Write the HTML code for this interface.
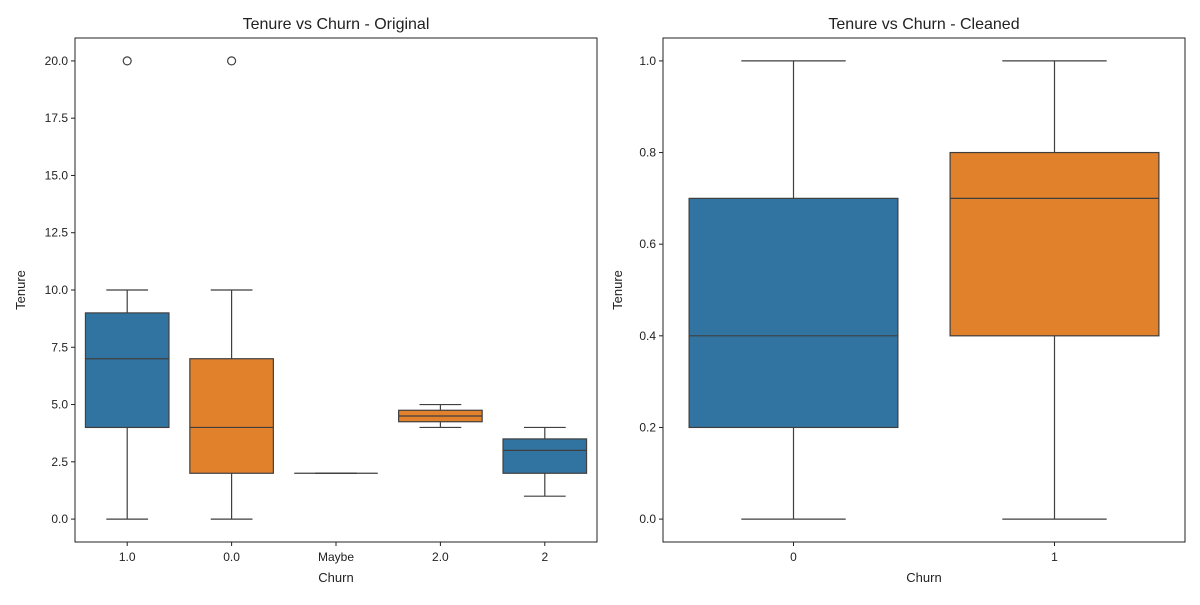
<!DOCTYPE html>
<html><head><meta charset="utf-8"><style>
body{margin:0;background:#fff;}
svg text{font-family:"Liberation Sans",sans-serif;fill:#222;}
</style></head><body>
<svg id="c" width="1200" height="600" xmlns="http://www.w3.org/2000/svg"></svg>
<script>
const leftCats=["1.0","0.0","Maybe","2.0","2"];
const leftLo=[0,0,2,4,1];
const leftQ1=[4,2,2,4.25,2];
const leftMed=[7,4,2,4.5,3];
const leftQ3=[9,7,2,4.75,3.5];
const leftHi=[10,10,2,5,4];
const leftOut=[[20],[20],[],[],[]];
const leftColors=["#3274a1","#e1812c","#3274a1","#e1812c","#3274a1"];
const leftTicks=[0,2.5,5,7.5,10,12.5,15,17.5,20];
const leftTickLabels=["0.0","2.5","5.0","7.5","10.0","12.5","15.0","17.5","20.0"];

const rightCats=["0","1"];
const rightLo=[0,0];
const rightQ1=[0.2,0.4];
const rightMed=[0.4,0.7];
const rightQ3=[0.7,0.8];
const rightHi=[1,1];
const rightOut=[[],[]];
const rightColors=["#3274a1","#e1812c"];
const rightTicks=[0,0.2,0.4,0.6,0.8,1.0];
const rightTickLabels=["0.0","0.2","0.4","0.6","0.8","1.0"];

const svg=document.getElementById('c');
const NS="http://www.w3.org/2000/svg";
function mk(tag,attrs,parent,text){const e=document.createElementNS(NS,tag);for(const k in attrs)e.setAttribute(k,attrs[k]);if(text!==undefined)e.textContent=text;(parent||svg).appendChild(e);return e;}

function panel(p){
  const g=mk('g',{});
  
  
  const x0=p.x0,x1=p.x1,yT=38,yB=542;
  const ymin=p.ymin,ymax=p.ymax;
  const y=v=>yB-(v-ymin)/(ymax-ymin)*(yB-yT);
  const n=p.cats.length, step=(x1-x0)/n;
  const cx=i=>x0+step*(i+0.5);
  const bw=step*0.8;
  // ticks
  p.ticks.forEach((t,i)=>{
    const l=mk('line',{x1:x0-4,x2:x0,y1:y(t),y2:y(t),stroke:'#222','stroke-width':1},g);
    
    
    const tx=mk('text',{x:x0-7,y:y(t)+4,'text-anchor':'end','font-size':12},g,p.tickLabels[i]);
    
    
  });
  p.cats.forEach((c,i)=>{
    const l=mk('line',{x1:cx(i),x2:cx(i),y1:yB,y2:yB+4,stroke:'#222'},g);
    
    
    const tx=mk('text',{x:cx(i),y:yB+19,'text-anchor':'middle','font-size':12},g,c);
    
    
    const lc='#3f3f3f';
    const w1=mk('line',{x1:cx(i),x2:cx(i),y1:y(p.lo[i]),y2:y(p.q1[i]),stroke:lc,'stroke-width':1.2},g);
    
    
    const w2=mk('line',{x1:cx(i),x2:cx(i),y1:y(p.q3[i]),y2:y(p.hi[i]),stroke:lc,'stroke-width':1.2},g);
    
    
    [p.lo[i],p.hi[i]].forEach(v=>{
      const cap=mk('line',{x1:cx(i)-bw/4,x2:cx(i)+bw/4,y1:y(v),y2:y(v),stroke:lc,'stroke-width':1.2},g);
      
      
    });
    const b=mk('rect',{x:cx(i)-bw/2,y:y(p.q3[i]),width:bw,height:Math.max(0,y(p.q1[i])-y(p.q3[i])),fill:p.colors[i],stroke:lc,'stroke-width':1.2},g);
    
    
    const m=mk('line',{x1:cx(i)-bw/2,x2:cx(i)+bw/2,y1:y(p.med[i]),y2:y(p.med[i]),stroke:lc,'stroke-width':1.2},g);
    
    
    p.out[i].forEach(v=>{
      const o=mk('circle',{cx:cx(i),cy:y(v),r:4,fill:'none',stroke:lc,'stroke-width':1.2},g);
      
      
    });
  });
  const fr=mk('rect',{x:x0,y:yT,width:x1-x0,height:yB-yT,fill:'none',stroke:'#222','stroke-width':1},g);
  
  
  const t=mk('text',{x:(x0+x1)/2,y:29,'text-anchor':'middle','font-size':16},g,p.title);
  
  
  const xl=mk('text',{x:(x0+x1)/2,y:582,'text-anchor':'middle','font-size':13},g,'Churn');
  
  
  const yl=mk('text',{x:0,y:0,'text-anchor':'middle','font-size':13,transform:`translate(${p.ylx},${(yT+yB)/2}) rotate(-90)`},g,'Tenure');
  
  
}
panel({name:'original-panel',x0:75,x1:597,ymin:-1,ymax:21,ylx:25,cats:leftCats,lo:leftLo,q1:leftQ1,med:leftMed,q3:leftQ3,hi:leftHi,out:leftOut,colors:leftColors,ticks:leftTicks,tickLabels:leftTickLabels,title:'Tenure vs Churn - Original'});
panel({name:'cleaned-panel',x0:663,x1:1185,ymin:-0.05,ymax:1.05,ylx:622,cats:rightCats,lo:rightLo,q1:rightQ1,med:rightMed,q3:rightQ3,hi:rightHi,out:rightOut,colors:rightColors,ticks:rightTicks,tickLabels:rightTickLabels,title:'Tenure vs Churn - Cleaned'});
</script>
</body></html>
